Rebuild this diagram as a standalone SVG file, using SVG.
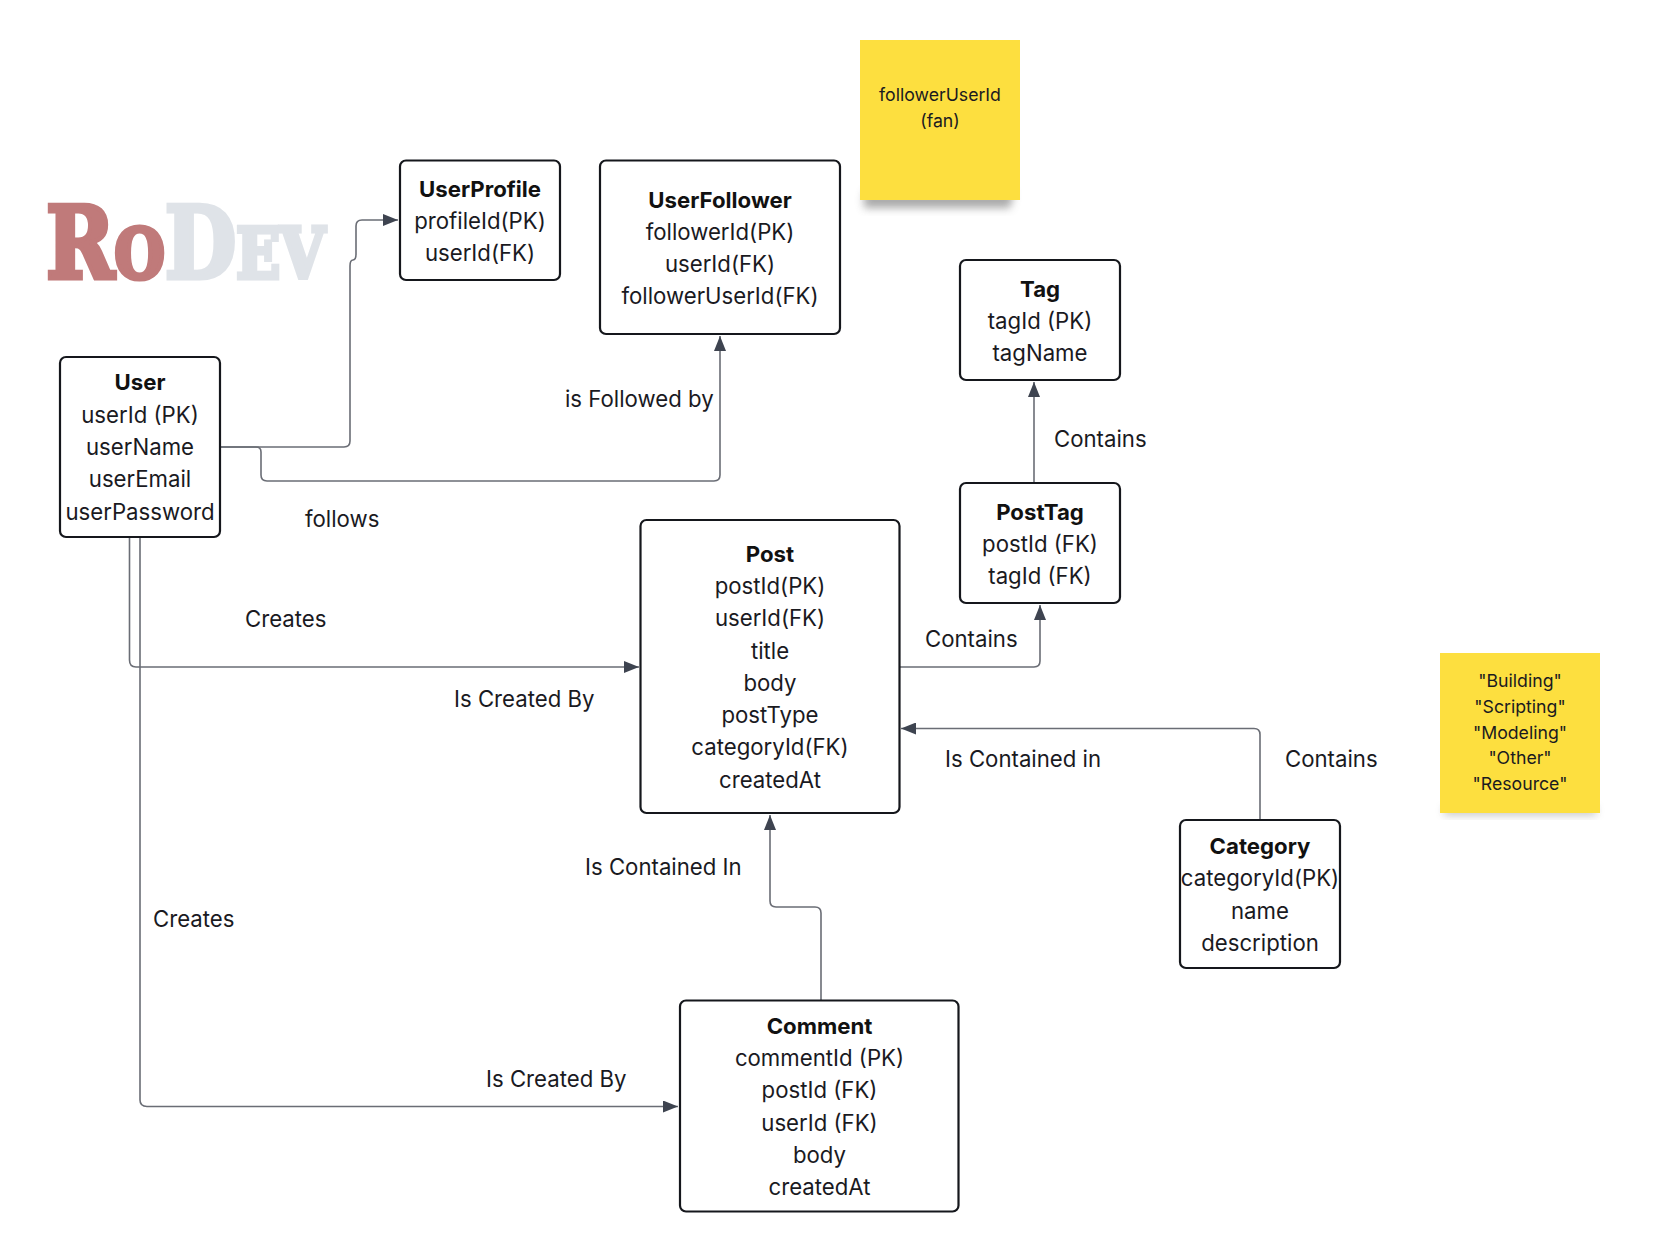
<svg xmlns="http://www.w3.org/2000/svg" width="1657" height="1252" viewBox="0 0 1657 1252">
<style>
text{font-family:Inter,"Liberation Sans",sans-serif;fill:#1a1a1f;text-anchor:middle}
.n{font-size:22.2px}
.h{font-size:22.2px;font-weight:700;fill:#111}
.l{font-size:22.2px;text-anchor:start}
.s{font-size:17.7px}
.b{fill:#fff;stroke:#15171c;stroke-width:2.2}
.c{fill:none;stroke:#6a6d75;stroke-width:1.6}
.y{fill:#fddf3f}
.lg{font-family:"DejaVu Serif",serif;font-weight:700;text-anchor:start;font-variant:small-caps;font-size:100px;stroke-width:5;stroke-linejoin:miter}
.r{fill:#c07a7a;stroke:#c07a7a}
.g{fill:#dfe3e8;stroke:#dfe3e8}
</style>
<defs>
<marker id="a" markerUnits="userSpaceOnUse" markerWidth="16" markerHeight="12" refX="15" refY="6" orient="auto"><path d="M0 0L15 6L0 12Z" fill="#3e4450"/></marker>
<filter id="sh" x="-10%" y="-50%" width="120%" height="200%"><feGaussianBlur stdDeviation="4"/></filter>
</defs>
<rect width="1657" height="1252" fill="#fff"/>
<g id="logo">
<text class="lg" transform="translate(46 278) scale(.825 1)"><tspan class="r">Ro</tspan><tspan class="g">Dev</tspan></text>
</g>
<g id="connectors">
<path class="c" d="M220 447H344Q350 447 350 441V266Q350 260 353 260Q356 260 356 254V226Q356 220 362 220H398" marker-end="url(#a)"/>
<path class="c" d="M220 447H256Q261 447 261 452V475Q261 481 267 481H714Q720 481 720 475V336" marker-end="url(#a)"/>
<path class="c" d="M1034 483V382" marker-end="url(#a)"/>
<path class="c" d="M129.500 537V660Q129.500 667 136 667H639" marker-end="url(#a)"/>
<path class="c" d="M140 537V1100Q140 1106.500 147 1106.500H678" marker-end="url(#a)"/>
<path class="c" d="M900 667H1034Q1040 667 1040 661V605" marker-end="url(#a)"/>
<path class="c" d="M1260 820V734.500Q1260 728.500 1254 728.500H901" marker-end="url(#a)"/>
<path class="c" d="M821 1001V913Q821 907 815 907H776Q770 907 770 901V815" marker-end="url(#a)"/>
</g>
<g id="labels">
<text class="l" x="565" y="406.500">is Followed by</text>
<text class="l" x="305" y="526.500">follows</text>
<text class="l" x="245" y="626.500">Creates</text>
<text class="l" x="454" y="707">Is Created By</text>
<text class="l" x="925" y="646.500">Contains</text>
<text class="l" x="1054" y="446.500">Contains</text>
<text class="l" x="945" y="766.500">Is Contained in</text>
<text class="l" x="1285" y="766.500">Contains</text>
<text class="l" x="585" y="874.500">Is Contained In</text>
<text class="l" x="153" y="926.500">Creates</text>
<text class="l" x="486" y="1086.500">Is Created By</text>
</g>
<g id="user"><rect class="b" x="60" y="357" width="160" height="180" rx="6"/>
<text class="h" x="140" y="390">User</text><text class="n" x="140" y="422.500">userId (PK)</text><text class="n" x="140" y="455">userName</text><text class="n" x="140" y="487">userEmail</text><text class="n" x="140" y="519.500">userPassword</text></g>
<g id="userprofile"><rect class="b" x="400" y="160.500" width="160" height="119.500" rx="6"/>
<text class="h" x="480" y="196.500">UserProfile</text><text class="n" x="480" y="229">profileId(PK)</text><text class="n" x="480" y="261">userId(FK)</text></g>
<g id="userfollower"><rect class="b" x="600" y="160.500" width="240" height="173.500" rx="6"/>
<text class="h" x="720" y="207.500">UserFollower</text><text class="n" x="720" y="240">followerId(PK)</text><text class="n" x="720" y="272">userId(FK)</text><text class="n" x="720" y="304">followerUserId(FK)</text></g>
<g id="tag"><rect class="b" x="960" y="260" width="160" height="120" rx="6"/>
<text class="h" x="1040" y="296.500">Tag</text><text class="n" x="1040" y="329">tagId (PK)</text><text class="n" x="1040" y="361">tagName</text></g>
<g id="posttag"><rect class="b" x="960" y="483" width="160" height="120" rx="6"/>
<text class="h" x="1040" y="519.500">PostTag</text><text class="n" x="1040" y="552">postId (FK)</text><text class="n" x="1040" y="584">tagId (FK)</text></g>
<g id="post"><rect class="b" x="640.500" y="520" width="259" height="293" rx="6"/>
<text class="h" x="770" y="562">Post</text><text class="n" x="770" y="594">postId(PK)</text><text class="n" x="770" y="626">userId(FK)</text><text class="n" x="770" y="659">title</text><text class="n" x="770" y="691">body</text><text class="n" x="770" y="723">postType</text><text class="n" x="770" y="755">categoryId(FK)</text><text class="n" x="770" y="787.500">createdAt</text></g>
<g id="category"><rect class="b" x="1180" y="820" width="160" height="148" rx="6"/>
<text class="h" x="1260" y="853.500">Category</text><text class="n" x="1260" y="886">categoryId(PK)</text><text class="n" x="1260" y="918.500">name</text><text class="n" x="1260" y="950.500">description</text></g>
<g id="comment"><rect class="b" x="680" y="1000.500" width="278.500" height="211" rx="6"/>
<text class="h" x="819.500" y="1033.500">Comment</text><text class="n" x="819.500" y="1066">commentId (PK)</text><text class="n" x="819.500" y="1098">postId (FK)</text><text class="n" x="819.500" y="1130.500">userId (FK)</text><text class="n" x="819.500" y="1162.500">body</text><text class="n" x="819.500" y="1195">createdAt</text></g>
<g id="note1"><path d="M864 192H1014L1010 208H864Z" fill="#555" opacity=".5" filter="url(#sh)"/><rect class="y" x="860" y="40" width="160" height="160"/>
<text class="s" x="940" y="101">followerUserId</text><text class="s" x="940" y="127">(fan)</text></g>
<g id="note2"><rect x="1444" y="806" width="152" height="9" fill="#555" opacity=".35" filter="url(#sh)"/><rect class="y" x="1440" y="653" width="160" height="160"/>
<text class="s" x="1520" y="687">"Building"</text><text class="s" x="1520" y="713">"Scripting"</text><text class="s" x="1520" y="738.500">"Modeling"</text><text class="s" x="1520" y="764">"Other"</text><text class="s" x="1520" y="790">"Resource"</text></g>
</svg>
